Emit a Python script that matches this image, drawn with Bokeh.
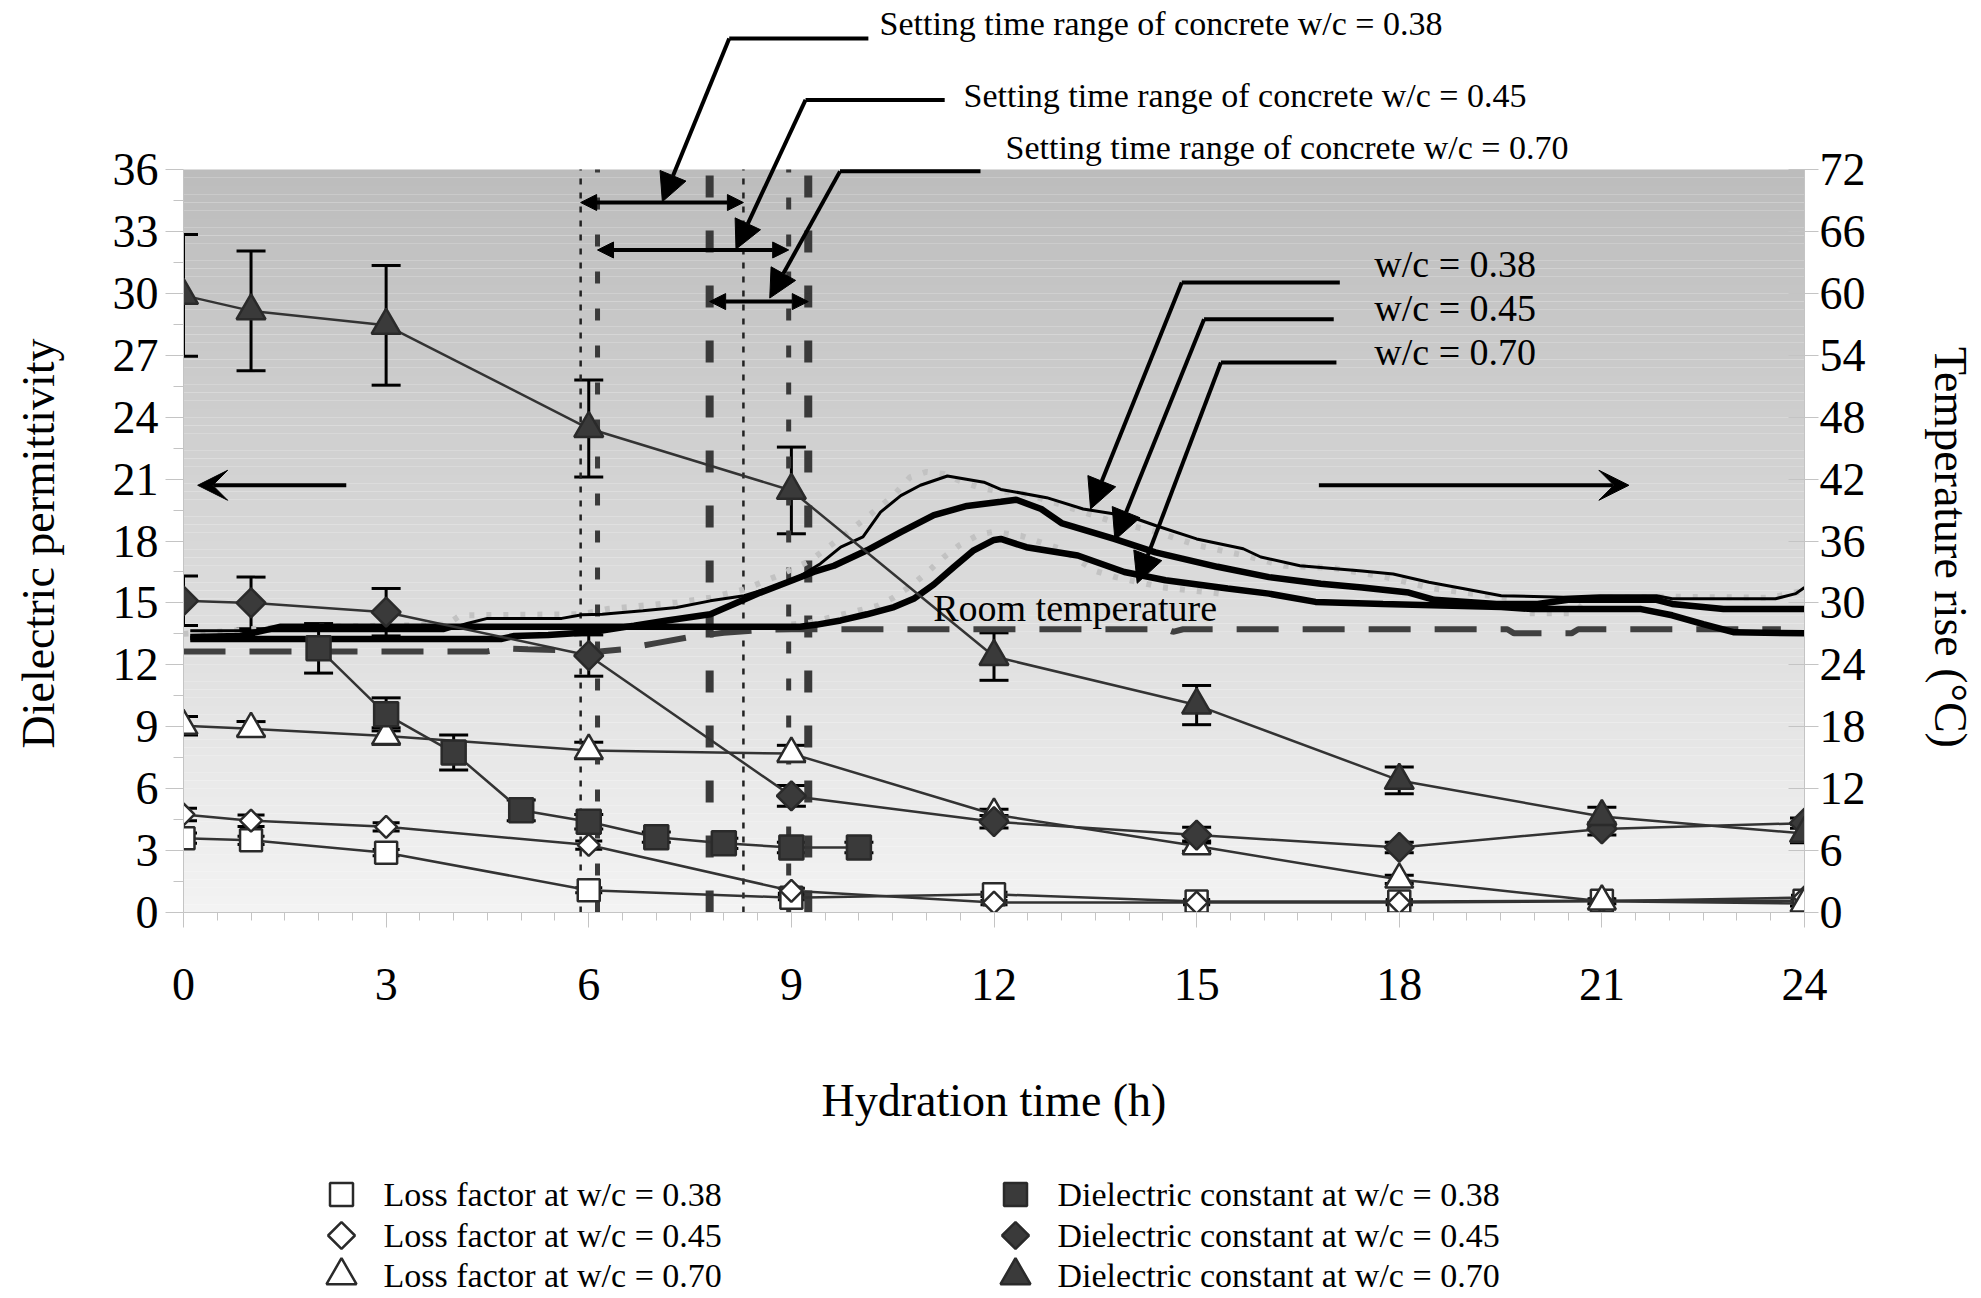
import numpy as np
from bokeh.plotting import figure
from bokeh.layouts import column, row
from bokeh.models import (Range1d, LinearAxis, FixedTicker, Whisker, TeeHead, Arrow,
                          NormalHead, VeeHead, ColumnDataSource)
from bokeh.core.properties import value
from bokeh.embed import file_html
from bokeh.resources import INLINE

# ---------------- data ----------------
hours_main = [0, 1, 3, 6, 9, 12, 15, 18, 21, 24]
loss_038 = [3.6, 3.5, 2.9, 1.08, 0.72, 0.88, 0.53, 0.53, 0.57, 0.57]
loss_038_err = [0.25, 0.2, 0.15, 0.12, 0.1, 0.1, 0.1, 0.1, 0.1, 0.1]
loss_045 = [4.75, 4.45, 4.15, 3.27, 1.05, 0.48, 0.48, 0.48, 0.54, 0.73]
loss_045_err = [0.3, 0.28, 0.2, 0.2, 0.12, 0.1, 0.1, 0.1, 0.1, 0.1]
loss_070 = [9.05, 8.9, 8.55, 7.85, 7.7, 4.75, 3.22, 1.6, 0.54, 0.44]
loss_070_err = [0.45, 0.35, 0.4, 0.4, 0.4, 0.25, 0.25, 0.2, 0.12, 0.12]
diel_045 = [15.1, 15.0, 14.55, 12.45, 5.65, 4.4, 3.75, 3.15, 4.05, 4.33]
diel_045_err = [1.2, 1.25, 1.15, 1.0, 0.5, 0.3, 0.38, 0.25, 0.3, 0.25]
diel_070 = [29.9, 29.15, 28.45, 23.45, 20.45, 12.4, 10.05, 6.4, 4.65, 3.83]
diel_070_err = [2.95, 2.9, 2.9, 2.35, 2.1, 1.15, 0.95, 0.65, 0.45, 0.45]
hours_diel_038 = [2, 3, 4, 5, 6, 7, 8, 9, 10]
diel_038 = [12.8, 9.6, 7.75, 4.95, 4.4, 3.65, 3.35, 3.15, 3.15]
diel_038_err = [1.2, 0.8, 0.85, 0.5, 0.35, 0.25, 0.25, 0.25, 0.25]

temp_hours_038 = [0.1, 3.85, 4.2, 4.5, 5.6, 5.9, 6.2, 6.8, 7.3, 7.8, 8.3, 8.7, 9.13, 9.43, 9.73,
                  10.06, 10.32, 10.62, 10.91, 11.31, 11.85, 12.1, 12.78, 13.32, 14.0, 14.39, 15.0,
                  15.69, 15.95, 16.53, 17.45, 17.91, 18.44, 18.98, 19.51, 20.43, 20.97, 21.81,
                  22.04, 23.57, 23.87, 24.0]
temp_038 = [27.3, 27.3, 28.0, 28.5, 28.5, 28.85, 28.9, 29.25, 29.55, 30.2, 30.7, 31.5, 32.6, 33.8,
            35.4, 36.4, 38.8, 40.4, 41.4, 42.3, 41.7, 41.0, 40.2, 39.1, 38.4, 37.5, 36.2, 35.25,
            34.45, 33.6, 33.1, 32.8, 32.0, 31.35, 30.7, 30.55, 30.7, 30.7, 30.4, 30.4, 30.9, 31.5]
temp_hours_045 = [0.1, 4.7, 4.9, 5.4, 5.9, 6.17, 6.67, 7.16, 7.8, 8.15, 8.54, 8.94, 9.33, 9.63,
                  10.12, 10.62, 11.11, 11.6, 12.1, 12.33, 12.7, 13.01, 13.78, 14.39, 15.31, 16.07,
                  16.84, 17.45, 18.14, 18.52, 19.44, 20.05, 20.5, 21.81, 22.04, 22.8, 24.0]
temp_045 = [26.5, 26.5, 26.8, 26.9, 27.1, 27.3, 27.8, 28.3, 28.9, 29.9, 31.0, 32.0, 33.0, 33.6,
            35.1, 36.85, 38.5, 39.4, 39.8, 40.0, 39.1, 37.7, 36.2, 34.9, 33.5, 32.5, 31.85, 31.5,
            31.0, 30.3, 29.9, 29.9, 30.3, 30.3, 29.9, 29.4, 29.4]
temp_hours_070 = [0.1, 0.84, 1.44, 9.13, 9.38, 9.73, 10.12, 10.52, 10.81, 11.11, 11.41, 11.7, 12.0,
                  12.1, 12.48, 13.24, 13.93, 14.54, 15.46, 16.07, 16.76, 17.76, 19.51, 19.97,
                  21.58, 22.04, 22.5, 22.96, 24.0]
temp_070 = [26.7, 26.8, 27.7, 27.7, 27.9, 28.3, 28.9, 29.6, 30.4, 31.8, 33.5, 35.1, 36.1, 36.2,
            35.4, 34.6, 33.0, 32.2, 31.4, 30.9, 30.1, 29.9, 29.6, 29.4, 29.4, 28.8, 27.95, 27.15,
            27.05]
room_hours = [0.0, 4.5, 4.75, 5.1, 5.7, 6.0, 6.5, 7.0, 7.5, 8.0, 8.6, 9.0, 14.55, 14.65, 14.8,
              19.6, 19.7, 20.55, 20.65, 23.65]
room_temp = [25.3, 25.3, 25.6, 25.5, 25.4, 25.2, 25.5, 26.1, 26.7, 27.1, 27.4, 27.45, 27.45, 27.2,
             27.45, 27.45, 27.05, 27.05, 27.45, 27.45]
dot_hours = [0.0, 0.3, 1.3, 3.9, 4.1, 5.9, 6.27, 7.31, 7.8, 8.3, 8.79, 9.28, 9.77, 10.27, 10.51,
             10.76, 11.0, 11.26, 11.49, 11.77, 12.0, 12.5, 13.0, 13.7, 14.4, 15.0, 15.7, 16.3,
             17.0, 17.8, 18.5, 19.2, 19.6, 19.85, 20.6, 20.8, 22.0, 23.5, 24.0]
dot_temp = [27.0, 27.1, 27.6, 27.9, 28.8, 28.9, 29.4, 30.05, 30.5, 31.3, 32.6, 34.1, 36.5, 39.1,
            40.4, 42.2, 42.7, 42.5, 41.85, 41.2, 40.9, 40.5, 39.5, 38.0, 36.9, 35.6, 34.6, 33.6,
            33.4, 32.5, 31.4, 30.8, 30.5, 29.0, 29.0, 30.5, 30.6, 30.5, 31.2]
dotb_hours = [9.0, 9.28, 9.77, 10.27, 10.51, 10.76, 11.0, 11.25, 11.49, 11.77, 12.0, 12.4, 13.0,
              13.5, 13.8, 14.5, 15.5]
dotb_temp = [27.9, 28.1, 28.9, 29.7, 30.5, 31.6, 32.9, 34.4, 35.6, 36.6, 36.9, 36.5, 35.2, 33.1,
             32.5, 31.5, 30.8]

setting_038 = [5.88, 8.29]
setting_045 = [6.13, 8.96]
setting_070 = [7.79, 9.25]

x_ticks = list(range(0, 25, 3))
y_ticks_left = list(range(0, 37, 3))
y_ticks_right = list(range(0, 73, 6))

legend_labels_left = ["Loss factor at w/c = 0.38", "Loss factor at w/c = 0.45",
                      "Loss factor at w/c = 0.70"]
legend_labels_right = ["Dielectric constant at w/c = 0.38", "Dielectric constant at w/c = 0.45",
                       "Dielectric constant at w/c = 0.70"]

# ---------------- layout ----------------
W = 1978
LT_W, RT_W = 80, 78         # side strips holding the rotated axis titles
FL, FR = 183, 1804          # plot area left / right (page px)
PT, PB = 169, 912           # plot area top / bottom (page px)
PXU = (PB - PT) / 36.0      # px per left-axis unit
Y_TOP = 36 + PT / PXU
H1 = 1150                   # height of the main row
H2 = 144                    # legend strip height
FONT = "Liberation Serif"
GRID_GRAY = "#c4c4c4"


def v_at(page_y):
    return (PB - page_y) / PXU


def h_at(page_x):
    return (page_x - FL) / ((FR - FL) / 24.0)


def blank(fig):
    fig.xgrid.visible = False
    fig.ygrid.visible = False
    fig.outline_line_color = None


# ---- side strips for the axis titles (frame = page rows 0..PB) ----
lt = figure(width=LT_W, height=H1, x_range=Range1d(0, LT_W), y_range=Range1d(0, PB),
            output_backend="svg", toolbar_location=None, title=None,
            x_axis_location=None, y_axis_location=None,
            min_border_left=0, min_border_right=0, min_border_top=0, min_border_bottom=H1 - PB)
blank(lt)
lt.text(x=[38], y=[PB - 543], text=["Dielectric permittivity"], angle=np.pi / 2,
        text_align="center", text_baseline="middle", text_font=value(FONT),
        text_font_size=value("46px"), text_color="black")

rt = figure(width=RT_W, height=H1, x_range=Range1d(W - RT_W, W), y_range=Range1d(0, PB),
            output_backend="svg", toolbar_location=None, title=None,
            x_axis_location=None, y_axis_location=None,
            min_border_left=0, min_border_right=0, min_border_top=0, min_border_bottom=H1 - PB)
blank(rt)
rt.text(x=[1950], y=[PB - 547], text=["Temperature rise (°C)"], angle=-np.pi / 2,
        text_align="center", text_baseline="middle", text_font=value(FONT),
        text_font_size=value("46px"), text_color="black")

# ---- main plot ----
p = figure(width=W - LT_W - RT_W, height=H1, x_range=Range1d(0, 24), y_range=Range1d(0, Y_TOP),
           output_backend="svg", toolbar_location=None, title=None,
           min_border_left=FL - LT_W, min_border_right=(W - RT_W) - FR, min_border_top=0,
           min_border_bottom=H1 - PB)
p.extra_y_ranges = {"temp": Range1d(0, 2 * Y_TOP)}
blank(p)
p.background_fill_color = "white"
p.border_fill_color = "white"

# gradient background of the plot area
N = 90
edges = np.linspace(0, 36, N + 1)
mids = 0.5 * (edges[:-1] + edges[1:])
cols = []
for m in mids:
    g = int(round(243 - (243 - 188) * (m / 36.0)))
    cols.append("#%02x%02x%02x" % (g, g, g))
p.quad(left=0, right=24, bottom=edges[:-1], top=edges[1:], fill_color=cols,
       line_color=None, level="image")

# axes
xa = p.xaxis[0]
xa.ticker = FixedTicker(ticks=x_ticks, minor_ticks=[k * 0.5 for k in range(49) if k % 6])
xa.axis_line_color = GRID_GRAY
xa.major_tick_line_color = GRID_GRAY
xa.minor_tick_line_color = GRID_GRAY
xa.major_tick_in, xa.major_tick_out = 0, 15
xa.minor_tick_in, xa.minor_tick_out = 0, 8
xa.major_label_text_font = FONT
xa.major_label_text_font_size = "46px"
xa.major_label_text_color = "black"
xa.major_label_standoff = 41
xa.axis_label = "Hydration time (h)"
xa.axis_label_text_font = FONT
xa.axis_label_text_font_size = "46px"
xa.axis_label_text_font_style = "normal"
xa.axis_label_text_color = "black"
xa.axis_label_standoff = 72

ya = p.yaxis[0]
ya.bounds = (0, 36)
ya.ticker = FixedTicker(ticks=y_ticks_left, minor_ticks=[1.5 + 3 * k for k in range(12)])
ya.axis_line_color = GRID_GRAY
ya.major_tick_line_color = GRID_GRAY
ya.minor_tick_line_color = GRID_GRAY
ya.major_tick_in, ya.major_tick_out = 0, 18
ya.minor_tick_in, ya.minor_tick_out = 0, 10
ya.major_label_text_font = FONT
ya.major_label_text_font_size = "46px"
ya.major_label_text_color = "black"
ya.major_label_standoff = 7

ra = LinearAxis(y_range_name="temp", bounds=(0, 72),
                ticker=FixedTicker(ticks=y_ticks_right, minor_ticks=[]))
ra.axis_line_color = GRID_GRAY
ra.major_tick_line_color = GRID_GRAY
ra.major_tick_in, ra.major_tick_out = 16, 14
ra.major_label_text_font = FONT
ra.major_label_text_font_size = "46px"
ra.major_label_text_color = "black"
ra.major_label_standoff = 1
p.add_layout(ra, "right")

# setting-time vertical lines
p.segment(x0=setting_038, y0=0, x1=setting_038, y1=36, line_color="#222222",
          line_width=2.5, line_dash="6 8")
p.segment(x0=setting_045, y0=0, x1=setting_045, y1=36, line_color="#3a3a3a",
          line_width=5, line_dash="12 25")
p.segment(x0=setting_070, y0=0, x1=setting_070, y1=36, line_color="#3a3a3a",
          line_width=8, line_dash="22 33")

# temperature curves (right axis)
p.line(room_hours, room_temp, y_range_name="temp", line_color="#404040", line_width=6,
       line_dash="42 24")
p.line(dot_hours, dot_temp, y_range_name="temp", line_color="#c2c2c2", line_width=6,
       line_dash="5 12")
p.line(dotb_hours, dotb_temp, y_range_name="temp", line_color="#c2c2c2", line_width=6,
       line_dash="5 12")
p.line(temp_hours_070, temp_070, y_range_name="temp", line_color="black", line_width=6.5)
p.line(temp_hours_045, temp_045, y_range_name="temp", line_color="black", line_width=6.5)
p.line(temp_hours_038, temp_038, y_range_name="temp", line_color="black", line_width=3)

# dielectric series (left axis)
LINE_C = "#333333"
EDGE_C = "#2a2a2a"
FILL_D = "#3a3a3a"


def whisk(xs, ys, es, head):
    src = ColumnDataSource(dict(base=xs, upper=[y + e for y, e in zip(ys, es)],
                                lower=[y - e for y, e in zip(ys, es)]))
    w = Whisker(source=src, base="base", upper="upper", lower="lower", dimension="height",
                line_color="black", line_width=3,
                upper_head=TeeHead(size=head, line_width=3, line_color="black"),
                lower_head=TeeHead(size=head, line_width=3, line_color="black"))
    p.add_layout(w)


series = [
    (hours_main, loss_038, loss_038_err, "square", 22, 0, "white", 27),
    (hours_main, loss_045, loss_045_err, "square", 15.5, np.pi / 4, "white", 27),
    (hours_main, loss_070, loss_070_err, "triangle", 28, 0, "white", 29),
    (hours_diel_038, diel_038, diel_038_err, "square", 24, 0, FILL_D, 29),
    (hours_main, diel_045, diel_045_err, "square", 20.5, np.pi / 4, FILL_D, 29),
    (hours_main, diel_070, diel_070_err, "triangle", 29, 0, FILL_D, 29),
]
for xs, ys, es, mk, sz, ang, fc, hd in series:
    whisk(xs, ys, es, hd)
    p.line(xs, ys, line_color=LINE_C, line_width=2.5)
for xs, ys, es, mk, sz, ang, fc, hd in series:
    p.scatter(xs, ys, marker=mk, size=sz, angle=ang, fill_color=fc, line_color=EDGE_C,
              line_width=2.5)

# ---------------- annotations ----------------
TXT = dict(text_font=value(FONT), text_color="black", text_baseline="middle", text_align="left")
p.text(x=[h_at(879), h_at(963), h_at(1005)], y=[v_at(23), v_at(95), v_at(147)],
       text=["Setting time range of concrete w/c = 0.38",
             "Setting time range of concrete w/c = 0.45",
             "Setting time range of concrete w/c = 0.70"],
       text_font_size=value("34px"), **TXT)
p.text(x=[17.63, 17.63, 17.63], y=[62.85, 58.6, 54.3], y_range_name="temp",
       text=["w/c = 0.38", "w/c = 0.45", "w/c = 0.70"], text_font_size=value("38px"), **TXT)
p.text(x=[11.1], y=[29.5], y_range_name="temp", text=["Room temperature"],
       text_font_size=value("38px"), **TXT)

# double arrows for setting ranges
for rng, yv in ((setting_038, 34.4), (setting_045, 32.1), (setting_070, 29.6)):
    p.add_layout(Arrow(start=NormalHead(size=16, fill_color="black", line_color="black"),
                       end=NormalHead(size=16, fill_color="black", line_color="black"),
                       x_start=rng[0], y_start=yv, x_end=rng[1], y_end=yv,
                       line_width=4, line_color="black"))

# callouts to the setting-range arrows
callouts_left = [((10.14, 8.08), 42.35, (7.09, 34.44)),
                 ((11.27, 9.21), 39.37, (8.18, 32.14)),
                 ((11.80, 9.72), 35.91, (8.68, 29.77))]
for (xa0, xa1), yv, tip in callouts_left:
    p.line([xa0, xa1], [yv, yv], line_color="black", line_width=4)
    p.add_layout(Arrow(end=NormalHead(size=28, fill_color="black", line_color="black"),
                       x_start=xa1, y_start=yv, x_end=tip[0], y_end=tip[1],
                       line_width=4, line_color="black"))

# callouts to the temperature curves
callouts_temp = [((17.12, 14.78), 61.05, (13.43, 39.1)),
                 ((17.03, 15.11), 57.5, (13.79, 36.1)),
                 ((17.07, 15.36), 53.3, (14.12, 31.9))]
for (xa0, xa1), yv, tip in callouts_temp:
    p.line([xa0, xa1], [yv, yv], y_range_name="temp", line_color="black", line_width=4)
    p.add_layout(Arrow(end=NormalHead(size=30, fill_color="black", line_color="black"),
                       x_start=xa1, y_start=yv, x_end=tip[0], y_end=tip[1],
                       y_range_name="temp", line_width=4, line_color="black"))

# axis direction arrows
p.add_layout(Arrow(end=VeeHead(size=30, fill_color="black", line_color="black"),
                   x_start=2.41, y_start=20.7, x_end=0.21, y_end=20.7,
                   line_width=4, line_color="black"))
p.add_layout(Arrow(end=VeeHead(size=30, fill_color="black", line_color="black"),
                   x_start=16.81, y_start=41.4, x_end=21.4, y_end=41.4, y_range_name="temp",
                   line_width=4, line_color="black"))

# ---------------- legend strip (page-pixel coordinates) ----------------
lf = figure(width=W, height=H2, x_range=Range1d(0, W), y_range=Range1d(0, H2),
            output_backend="svg", toolbar_location=None, title=None,
            x_axis_location=None, y_axis_location=None,
            min_border_left=0, min_border_right=0, min_border_top=0, min_border_bottom=0)
blank(lf)

rows = [H2 - 44, H2 - 85, H2 - 125]
MK_L, MK_R = 341, 1015
lf.scatter([MK_L], [rows[0]], marker="square", size=23, fill_color="white",
           line_color=EDGE_C, line_width=2.5)
lf.scatter([MK_L], [rows[1]], marker="square", size=19, angle=np.pi / 4, fill_color="white",
           line_color=EDGE_C, line_width=2.5)
lf.scatter([MK_L], [rows[2]], marker="triangle", size=30, fill_color="white",
           line_color=EDGE_C, line_width=2.5)
lf.scatter([MK_R], [rows[0]], marker="square", size=23, fill_color=FILL_D,
           line_color=EDGE_C, line_width=2.5)
lf.scatter([MK_R], [rows[1]], marker="square", size=19, angle=np.pi / 4, fill_color=FILL_D,
           line_color=EDGE_C, line_width=2.5)
lf.scatter([MK_R], [rows[2]], marker="triangle", size=30, fill_color=FILL_D,
           line_color=EDGE_C, line_width=2.5)
lf.text(x=[MK_L + 42] * 3, y=rows, text=legend_labels_left, text_font_size=value("34px"), **TXT)
lf.text(x=[MK_R + 42] * 3, y=rows, text=legend_labels_right, text_font_size=value("34px"), **TXT)

layout = column(row(lt, p, rt, spacing=0), lf, spacing=0)
open("out.html", "w").write(file_html(layout, INLINE))
